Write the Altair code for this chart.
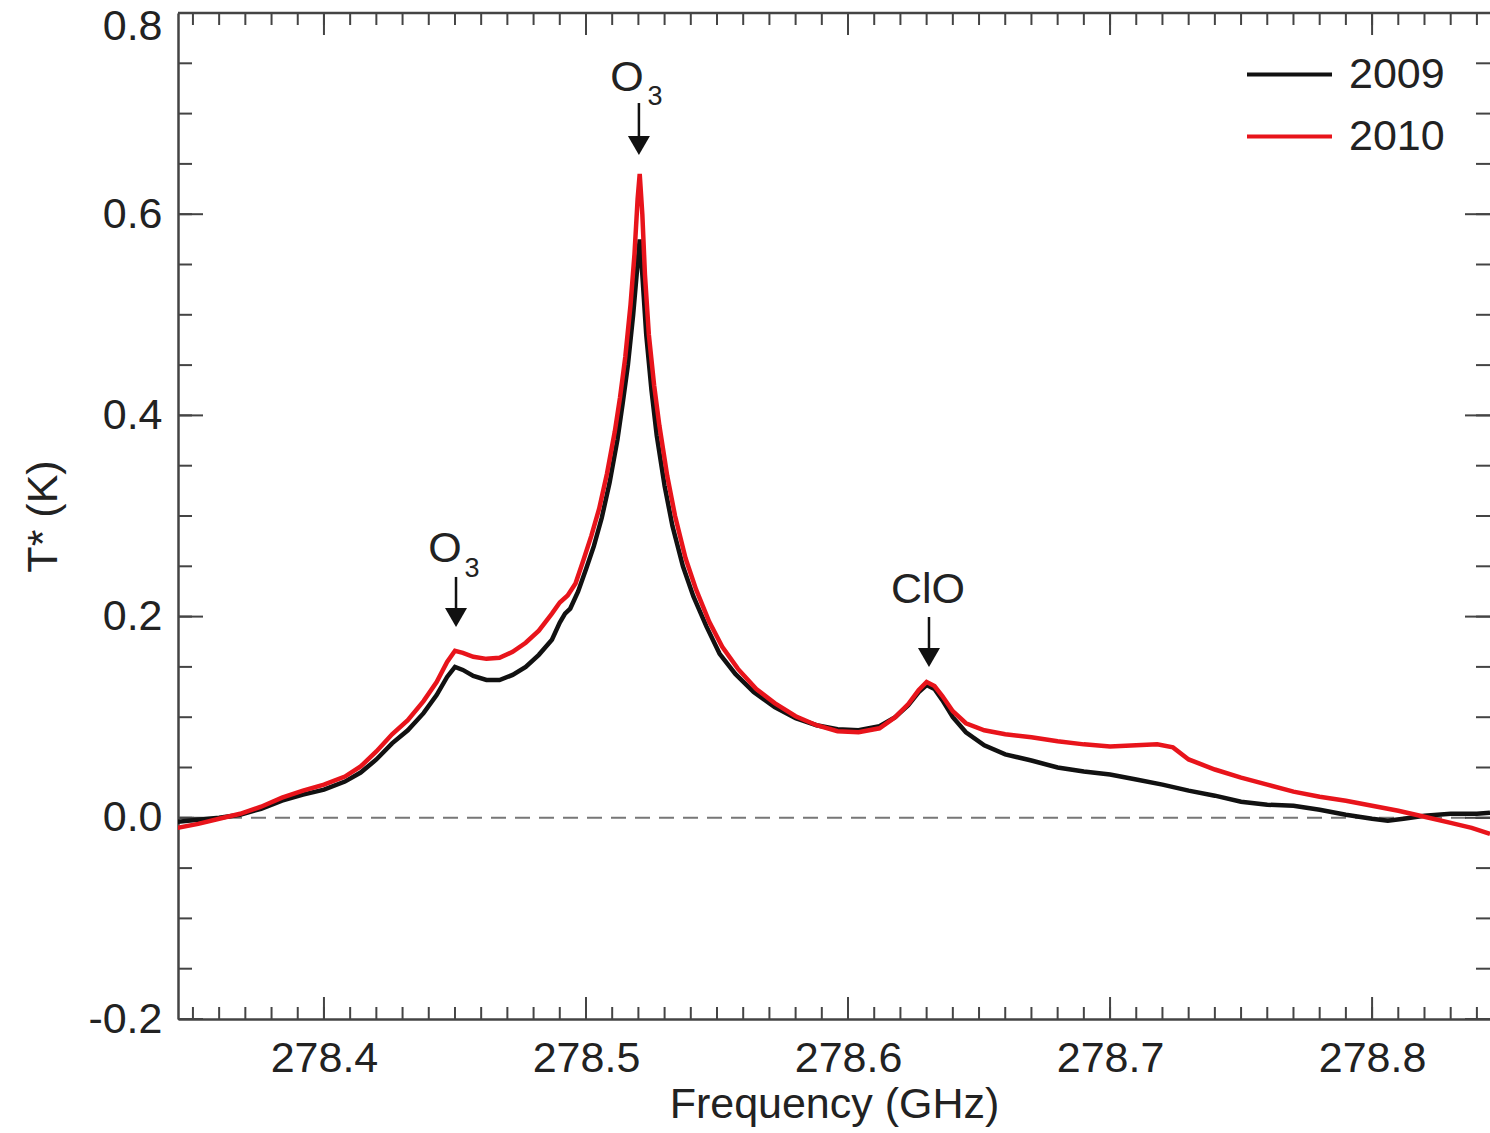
import altair as alt
import pandas as pd

# ---------------- data ----------------
freq_2009 = [278.344, 278.352, 278.360, 278.368, 278.376, 278.384, 278.392, 278.400, 278.408, 278.414,
             278.420, 278.426, 278.432, 278.438, 278.443, 278.447, 278.450, 278.453, 278.457, 278.462,
             278.467, 278.472, 278.477, 278.482, 278.487, 278.490, 278.492, 278.494, 278.497, 278.500,
             278.503, 278.506, 278.509, 278.512, 278.514, 278.516, 278.518, 278.5195, 278.5205, 278.5215,
             278.523, 278.525, 278.527, 278.530, 278.533, 278.537, 278.541, 278.546, 278.551, 278.557,
             278.564, 278.572, 278.580, 278.588, 278.596, 278.604, 278.612, 278.618, 278.623, 278.627,
             278.630, 278.633, 278.636, 278.640, 278.645, 278.652, 278.660, 278.670, 278.680, 278.690,
             278.700, 278.710, 278.720, 278.730, 278.740, 278.750, 278.760, 278.770, 278.780, 278.790,
             278.800, 278.806, 278.812, 278.820, 278.830, 278.840, 278.845]
temp_2009 = [-0.004, -0.002, 0.000, 0.003, 0.009, 0.017, 0.023, 0.028, 0.036, 0.045,
             0.058, 0.074, 0.087, 0.104, 0.122, 0.140, 0.150, 0.147, 0.141, 0.137,
             0.137, 0.142, 0.150, 0.162, 0.177, 0.194, 0.203, 0.208, 0.225, 0.247,
             0.270, 0.298, 0.333, 0.376, 0.412, 0.450, 0.500, 0.545, 0.575, 0.540,
             0.480, 0.425, 0.380, 0.330, 0.290, 0.250, 0.220, 0.190, 0.163, 0.143,
             0.125, 0.110, 0.099, 0.092, 0.088, 0.087, 0.091, 0.100, 0.112, 0.125,
             0.132, 0.128, 0.117, 0.100, 0.085, 0.072, 0.063, 0.057, 0.050, 0.046,
             0.043, 0.038, 0.033, 0.027, 0.022, 0.016, 0.013, 0.012, 0.008, 0.003,
             -0.001, -0.003, -0.001, 0.002, 0.004, 0.004, 0.005]

freq_2010 = [278.344, 278.352, 278.360, 278.368, 278.376, 278.384, 278.392, 278.400, 278.408, 278.414,
             278.420, 278.426, 278.432, 278.438, 278.443, 278.447, 278.450, 278.453, 278.457, 278.462,
             278.467, 278.472, 278.477, 278.482, 278.487, 278.490, 278.493, 278.496, 278.499, 278.502,
             278.505, 278.508, 278.511, 278.513, 278.515, 278.517, 278.5185, 278.5197, 278.5205, 278.5215,
             278.5225, 278.524, 278.526, 278.528, 278.531, 278.534, 278.538, 278.542, 278.547, 278.552,
             278.558, 278.565, 278.572, 278.580, 278.588, 278.596, 278.604, 278.612, 278.618, 278.623,
             278.627, 278.630, 278.633, 278.636, 278.640, 278.645, 278.652, 278.660, 278.670, 278.680,
             278.690, 278.700, 278.710, 278.718, 278.724, 278.730, 278.740, 278.750, 278.760, 278.770,
             278.780, 278.790, 278.800, 278.810, 278.820, 278.830, 278.838, 278.845]
temp_2010 = [-0.010, -0.006, -0.001, 0.004, 0.011, 0.020, 0.027, 0.033, 0.041, 0.051,
             0.066, 0.083, 0.097, 0.116, 0.135, 0.155, 0.166, 0.164, 0.160, 0.158,
             0.159, 0.165, 0.174, 0.186, 0.203, 0.214, 0.221, 0.233, 0.256, 0.280,
             0.307, 0.342, 0.384, 0.418, 0.458, 0.510, 0.560, 0.615, 0.640, 0.600,
             0.540, 0.480, 0.430, 0.390, 0.340, 0.300, 0.258, 0.227, 0.195, 0.170,
             0.148, 0.128, 0.114, 0.101, 0.092, 0.086, 0.085, 0.089, 0.100, 0.113,
             0.127, 0.135, 0.131, 0.121, 0.106, 0.094, 0.087, 0.083, 0.080, 0.076,
             0.073, 0.071, 0.072, 0.073, 0.070, 0.058, 0.048, 0.040, 0.033, 0.026,
             0.021, 0.017, 0.012, 0.007, 0.001, -0.005, -0.010, -0.016]

years = ["2009", "2010"]
year_colors = ["#111111", "#e8141b"]

x_major = [278.4, 278.5, 278.6, 278.7, 278.8]
y_major = [-0.2, 0.0, 0.2, 0.4, 0.6, 0.8]
x_minor = [round(278.35 + 0.01 * i, 2) for i in range(50)]
y_minor = [round(-0.2 + 0.05 * i, 2) for i in range(21)]

# annotations: label pieces and arrows (data coordinates)
ann_text = ["O", "3", "O", "3", "ClO"]
ann_x = [278.4462, 278.4565, 278.5156, 278.5263, 278.6305]
ann_y = [0.2672, 0.2473, 0.7354, 0.7165, 0.2264]
ann_size = [43, 27, 43, 27, 43]
arrow_x = [278.4504, 278.5202, 278.6309]
arrow_top = [0.2394, 0.7105, 0.1996]
arrow_head = [0.1991, 0.6683, 0.1593]

# ---------------- layout ----------------
W, H = 1312, 1006
FONT = "Liberation Sans"
AX = "#444444"
TXT = "#222222"

rows = []
for f, t in zip(freq_2009, temp_2009):
    rows.append({"freq": f, "temp": t, "year": "2009"})
for f, t in zip(freq_2010, temp_2010):
    rows.append({"freq": f, "temp": t, "year": "2010"})
df = pd.DataFrame(rows)

xs = alt.Scale(domain=[278.3443, 278.845], nice=False, zero=False)
ys = alt.Scale(domain=[-0.2, 0.8], nice=False, zero=False)

x_axis = alt.Axis(values=x_major, format=".1f", ticks=False, grid=False,
                  domainColor=AX, domainWidth=2.5,
                  labelFont=FONT, labelFontSize=43, labelColor=TXT, labelPadding=18,
                  title="Frequency (GHz)", titleFont=FONT, titleFontSize=43,
                  titleFontWeight="normal", titleColor=TXT, titlePadding=3)
y_axis = alt.Axis(values=y_major, ticks=False, grid=False,
                  labelExpr="datum.value < 0 ? '-' + format(-datum.value, '.1f') : format(datum.value, '.1f')",
                  labelOffset={"condition": {"test": "datum.value > 0.79", "value": 13}, "value": 0},
                  domainColor=AX, domainWidth=2.5,
                  labelFont=FONT, labelFontSize=43, labelColor=TXT, labelPadding=16,
                  title="T* (K)", titleFont=FONT, titleFontSize=43,
                  titleFontWeight="normal", titleColor=TXT, titlePadding=22)

def X(field="freq"):
    return alt.X(f"{field}:Q", scale=xs, axis=x_axis)

def Y(field="temp"):
    return alt.Y(f"{field}:Q", scale=ys, axis=y_axis)

lines = alt.Chart(df).mark_line(strokeWidth=4.5, clip=True).encode(
    x=X(), y=Y(),
    color=alt.Color("year:N", scale=alt.Scale(domain=years, range=year_colors),
                    legend=alt.Legend(title=None, orient="none", legendX=1088, legendY=38,
                                      symbolType="M-2,0H2", symbolSize=1806, symbolStrokeWidth=4,
                                      labelFont=FONT, labelFontSize=43, labelColor=TXT,
                                      labelOffset=36, rowPadding=16, padding=0)),
)

zero = alt.Chart(pd.DataFrame({"temp": [0.0]})).mark_rule(
    color="#777777", strokeWidth=2, strokeDash=[15, 9]
).encode(y=Y())

xmaj = pd.DataFrame({"freq": x_major})
xmin = pd.DataFrame({"freq": x_minor})
ymaj = pd.DataFrame({"temp": y_major})
ymin = pd.DataFrame({"temp": y_minor})

def xticks(d, length):
    bottom = alt.Chart(d).mark_rule(color=AX, strokeWidth=2).encode(
        x=X(), y=alt.value(H), y2=alt.value(H - length))
    top = alt.Chart(d).mark_rule(color=AX, strokeWidth=2).encode(
        x=X(), y=alt.value(0), y2=alt.value(length))
    return [bottom, top]

def yticks(d, length):
    left = alt.Chart(d).mark_rule(color=AX, strokeWidth=2).encode(
        y=Y(), x=alt.value(0), x2=alt.value(length))
    right = alt.Chart(d).mark_rule(color=AX, strokeWidth=2).encode(
        y=Y(), x=alt.value(W), x2=alt.value(W - length))
    return [left, right]

tick_layers = xticks(xmin, 12) + xticks(xmaj, 22) + yticks(ymin, 14) + yticks(ymaj, 25)

top_frame = alt.Chart(pd.DataFrame({"a": [0]})).mark_rule(color=AX, strokeWidth=2.5).encode(
    y=alt.value(0))

ann_df = pd.DataFrame({"freq": ann_x, "temp": ann_y, "label": ann_text, "fs": ann_size})
ann = alt.Chart(ann_df).mark_text(font=FONT, color=TXT, align="center", baseline="middle").encode(
    x=X(), y=Y(),
    text="label:N", size=alt.Size("fs:Q", scale=None, legend=None))

arr_df = pd.DataFrame({"freq": arrow_x, "temp": arrow_top, "head": arrow_head})
arr_line = alt.Chart(arr_df).mark_rule(color="#111111", strokeWidth=2.5).encode(
    x=X(), y=Y(), y2="head:Q")
arr_head = alt.Chart(arr_df).mark_point(shape="triangle-down", filled=True, size=484,
                                        color="#111111", opacity=1).encode(
    x=X(), y=Y("head"))

chart = alt.layer(zero, *tick_layers, top_frame, lines, arr_line, arr_head, ann).properties(
    width=W, height=H,
    autosize=alt.AutoSizeParams(type="none"),
    padding={"left": 178, "top": 13, "right": 0, "bottom": 114},
    background="white",
).configure_view(stroke=None)

chart.save("out.html", embed_options={"renderer": "svg", "actions": False})
